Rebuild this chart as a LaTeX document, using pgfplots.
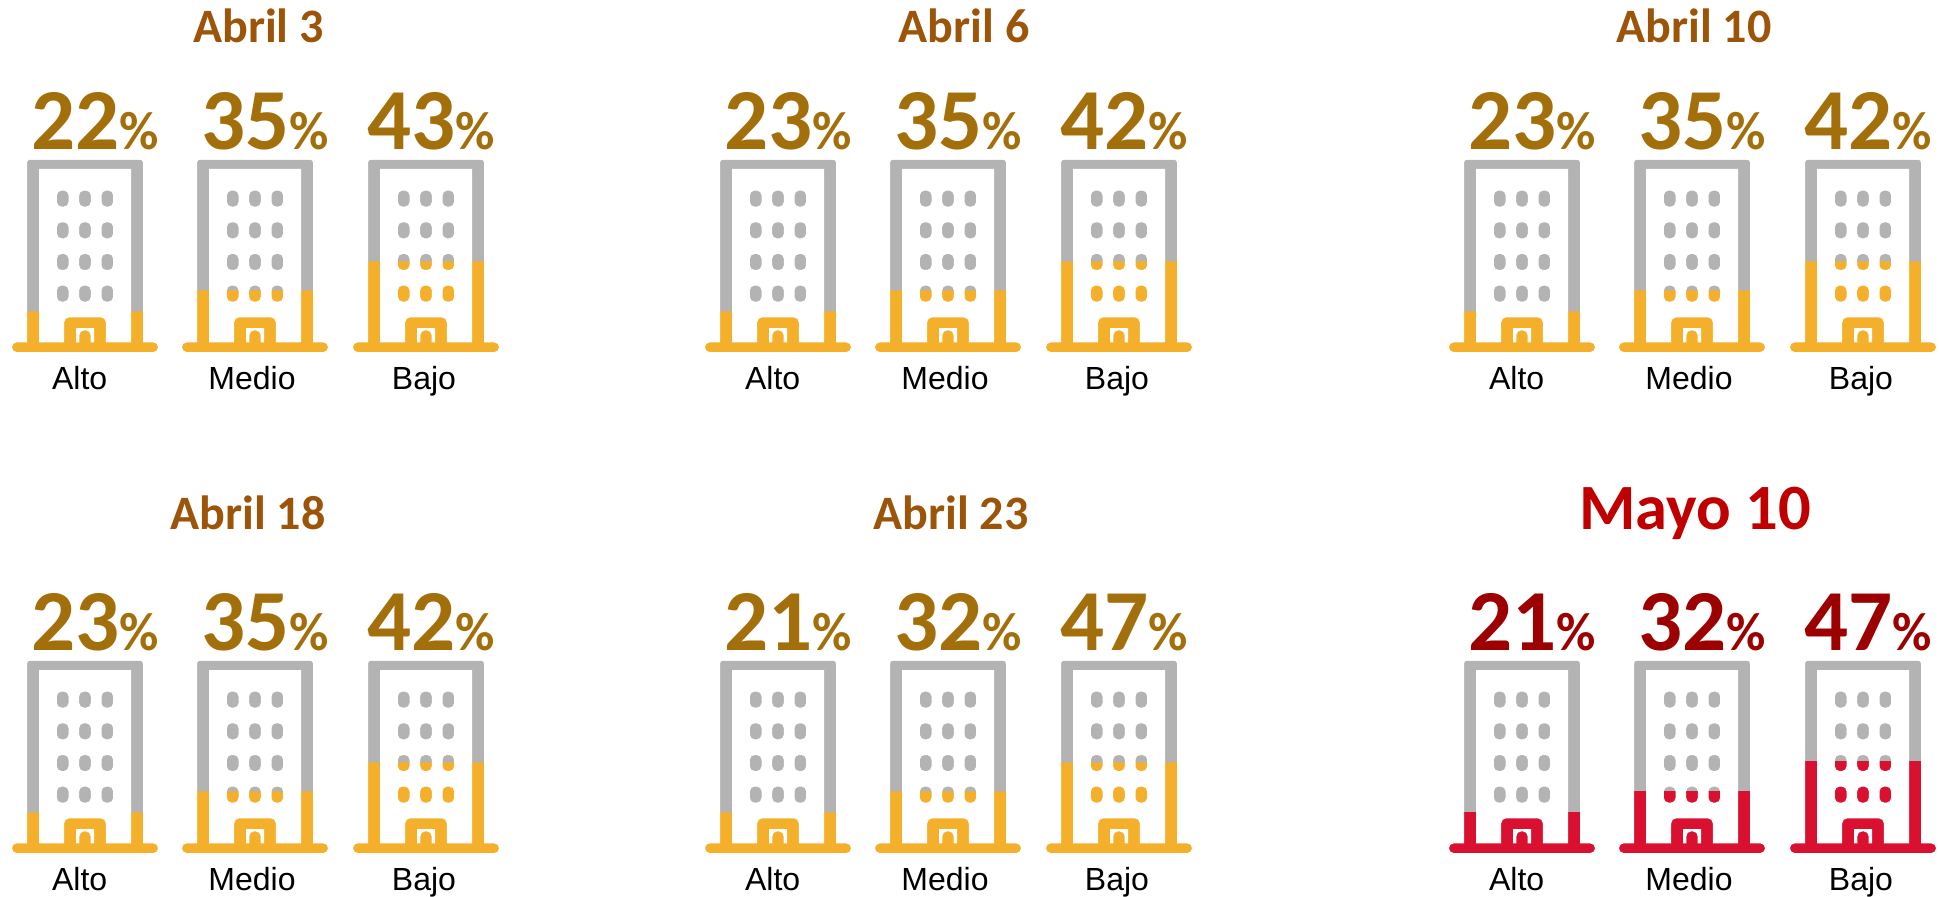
\documentclass[border=0pt]{standalone}
\usepackage{pgfplots}
\usepackage{pgfplotstable}
\usepackage{fontspec}
\pgfplotsset{compat=1.18}
\setmainfont{Liberation Sans}
\newfontfamily\carl{Carlito}

\definecolor{wall}{RGB}{179,179,179}
\definecolor{amber}{RGB}{244,176,42}
\definecolor{crimson}{RGB}{217,16,48}
\definecolor{numgold}{RGB}{163,111,10}
\definecolor{numred}{RGB}{156,0,0}
\definecolor{titlegold}{RGB}{156,84,9}
\definecolor{titlered}{RGB}{192,0,0}

% x: building centre (px), level: height of the coloured part (px), pct: printed value,
% top: building height (px), lx: centre of the printed value (px)
\pgfplotstableread{
x level pct top lx
85 40.7 22 192.4 85
255 61.7 35 192.4 255.5
426 90.7 43 192.4 421
}\tabA
\pgfplotstableread{
x level pct top lx
85 40.7 23 192.4 85
255 61.7 35 192.4 255.5
426 90.7 42 192.4 421
}\tabB
\pgfplotstableread{
x level pct top lx
85 40.7 23 192.4 85
255 61.7 35 192.4 255.5
426 90.7 42 192.4 421
}\tabC
\pgfplotstableread{
x level pct top lx
85 40.7 23 192.4 85
255 61.7 35 192.4 255.5
426 90.7 42 192.4 421
}\tabD
\pgfplotstableread{
x level pct top lx
85 40.7 21 192.4 85
255 61.7 32 192.4 255.5
426 90.7 47 192.4 421
}\tabE
\pgfplotstableread{
x level pct top lx
85 41 21 192.4 85
255 62 32 192.4 255.5
426 92 47 192.4 421
}\tabF

% white stencil with the building cut out of it, laid over the bars
\pgfdeclareplotmark{stencil}{%
  \path[draw=none,fill=white,even odd rule,x=0.5pt,y=0.5pt]
    (-77,-2) rectangle (77,196)
    (-73,4.7) [rounded corners=2.3pt] -- (-73,0) -- (73,0) -- (73,9.6) [sharp corners]
      -- (58,9.6) -- (58,186) [rounded corners=1.5pt] -- (58,192.4) -- (-58,192.4)
      -- (-58,186) [sharp corners] -- (-58,9.6) [rounded corners=2.3pt] -- (-73,9.6) -- (-73,4.7) [sharp corners] -- cycle
    (-46,9.6) -- (-46,183) -- (46,183) -- (46,9.6) -- (20.8,9.6)
      [rounded corners=2.5pt] -- (20.8,34.7) -- (-20.8,34.7) [sharp corners] -- (-20.8,9.6) -- cycle
    (-9,9.6) -- (-9,24) -- (9,24) -- (9,9.6) -- (5.7,9.6)
      [rounded corners=2.5pt] -- (5.7,21.7) -- (-5.7,21.7) [sharp corners] -- (-5.7,9.6) -- cycle
    \foreach \yy in {58.4,90,121.7,153.4} { \foreach \xx in {-22.3,0,22.3} {
      [rounded corners=2.3pt] ({\xx-5.8},{\yy-8}) rectangle ({\xx+5.8},{\yy+8}) [sharp corners]
    }};
}

\newcommand{\panel}[8]{% origin x, origin y, table, fill, number colour, title x, title y, title
\begin{axis}[
  at={(#1*0.5pt,#2*0.5pt)}, anchor=south west,
  x=0.5pt, y=0.5pt,
  xmin=0, xmax=490, ymin=0, ymax=340,
  clip=false,
  axis line style={draw=none},
  major tick length=0pt,
  ytick=\empty,
  xtick={79.7,252,424},
  xticklabels={Alto,Medio,Bajo},
  xticklabel style={anchor=base,yshift=-18.8pt,font=\fontsize{16}{16}\selectfont},
  title={#8},
  every axis title shift=0pt,
  title style={at={(axis cs:#6,#7)},anchor=base,inner sep=0pt},
]
\addplot[ybar,bar width=146,bar shift=0pt,fill=wall,draw=none] table[x=x,y=top] {#3};
\addplot[ybar,bar width=146,bar shift=0pt,fill=#4,draw=none] table[x=x,y=level] {#3};
\addplot[only marks,mark=stencil,mark options={draw=none}] table[x=x,y expr=0] {#3};
\addplot[draw=none,mark=none,point meta=explicit symbolic,
  nodes near coords={\carl\bfseries\fontsize{43.5}{43.5}\selectfont\pgfplotspointmeta\fontsize{27}{27}\selectfont\%},
  every node near coord/.append style={anchor=base,text=#5,yshift=5.2pt,xshift=5pt,inner sep=0pt}]
  table[x=lx,y=top,meta=pct] {#3};
\end{axis}}

\newcommand{\titlegold}[1]{\carl\bfseries\fontsize{24}{24}\selectfont\textcolor{titlegold}{#1}}

\begin{document}
\begin{tikzpicture}
\path[use as bounding box] (0,0) rectangle (969.5pt,448pt);
\panel{0}{544}{\tabA}{amber}{numgold}{258.5}{309}{\titlegold{Abril 3}}
\panel{693}{544}{\tabB}{amber}{numgold}{271}{309}{\titlegold{Abril 6}}
\panel{1437}{544}{\tabC}{amber}{numgold}{257}{309}{\titlegold{Abril 10}}
\panel{0}{43}{\tabD}{amber}{numgold}{248}{324}{\titlegold{Abril 18}}
\panel{693}{43}{\tabE}{amber}{numgold}{258}{324}{\titlegold{Abril 23}}
\panel{1437}{43}{\tabF}{crimson}{numred}{258}{324}{\carl\bfseries\fontsize{32.3}{32.3}\selectfont\textcolor{titlered}{Mayo 10}}
\end{tikzpicture}
\end{document}
